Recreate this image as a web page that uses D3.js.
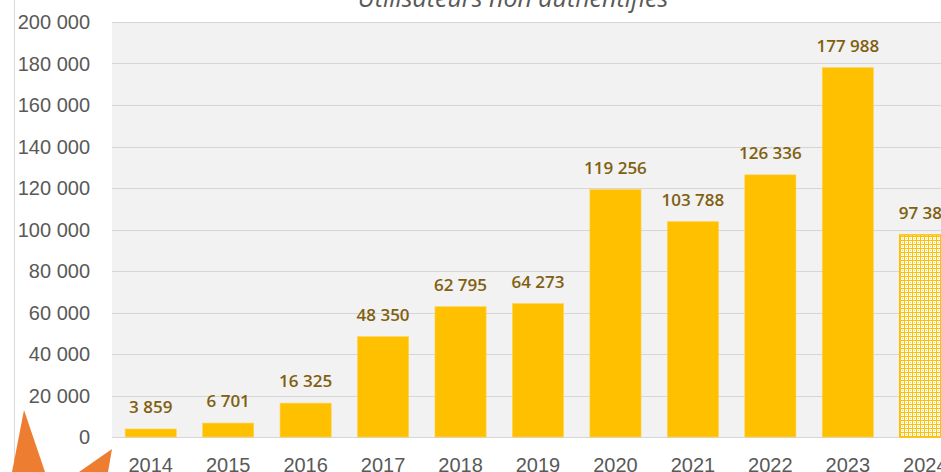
<!DOCTYPE html>
<html>
<head>
<meta charset="utf-8">
<script src="https://d3js.org/d3.v7.min.js"></script>
<style>
  body { margin: 0; background: white; overflow: hidden; }
  svg { display: block; font-family: "Liberation Sans", Arial, sans-serif; }
  .grid line { stroke: #d6d6d6; stroke-width: 1px; }
  .ylab { fill: #595959; font-size: 20px; }
  .xlab { fill: #595959; font-size: 20px; }
  .vlab { fill: #806010; font-size: 17px; font-family: "Open Sans", sans-serif; font-weight: 600; }
  .title { fill: #595959; font-size: 25px; font-style: italic; font-family: "Open Sans", sans-serif; }
</style>
</head>
<body>
<script>
  // data
  var years = ["2014","2015","2016","2017","2018","2019","2020","2021","2022","2023","2024"]
  var users = [3859, 6701, 16325, 48350, 62795, 64273, 119256, 103788, 126336, 177988, 97385]
  var yTicks = [0, 20000, 40000, 60000, 80000, 100000, 120000, 140000, 160000, 180000, 200000]
  var partialYear = "2024"

  var width = 941, height = 472

  var fmt = function(v){ return d3.format(",")(v).replace(/,/g, " ") }

  var svg = d3.select("body").append("svg")
    .attr("width", width)
    .attr("height", height)

  // hatch for the unfinished year: yellow lattice, white crosses
  var pat = svg.append("defs").append("pattern")
    .attr("id", "hatch")
    .attr("patternUnits", "userSpaceOnUse")
    .attr("width", 4).attr("height", 4)
  pat.append("rect").attr("width", 4).attr("height", 4).attr("fill", "#fff")
  pat.append("rect").attr("x", 0).attr("y", 0).attr("width", 4).attr("height", 1).attr("fill", "#ffc000")
  pat.append("rect").attr("x", 0).attr("y", 0).attr("width", 1).attr("height", 4).attr("fill", "#ffc000")
  pat.append("rect").attr("x", 2).attr("y", 2).attr("width", 1).attr("height", 1).attr("fill", "#ffd966")

  var x = d3.scaleBand()
    .domain(years)
    .range([112, 964])
    .paddingInner(0.34)
    .paddingOuter(0.17)

  var y = d3.scaleLinear()
    .domain([0, 200000])
    .range([437, 22])

  // left border line
  svg.append("line")
    .attr("x1", 14.5).attr("x2", 14.5)
    .attr("y1", 0).attr("y2", height)
    .attr("stroke", "#d9d9d9")

  // plot area
  svg.append("rect")
    .attr("x", 112).attr("y", y(200000))
    .attr("width", 964 - 112).attr("height", y(0) - y(200000))
    .attr("fill", "#f2f2f2")

  svg.append("g")
    .attr("class", "grid")
    .selectAll("line")
    .data(yTicks)
    .enter().append("line")
    .attr("x1", 112).attr("x2", 964)
    .attr("y1", function(d){ return Math.round(y(d)) + 0.5 })
    .attr("y2", function(d){ return Math.round(y(d)) + 0.5 })

  svg.selectAll("text.ylab")
    .data(yTicks)
    .enter().append("text")
    .attr("class", "ylab")
    .attr("x", 90)
    .attr("y", function(d){ return y(d) })
    .attr("dy", "0.35em")
    .attr("text-anchor", "end")
    .text(fmt)

  svg.selectAll("rect.bar")
    .data(years)
    .enter().append("rect")
    .attr("class", "bar")
    .attr("x", function(d){ return x(d) })
    .attr("width", x.bandwidth())
    .attr("y", function(d, i){ return y(users[i]) })
    .attr("height", function(d, i){ return y(0) - y(users[i]) })
    .attr("fill", function(d){ return d === partialYear ? "url(#hatch)" : "#ffc000" })
    .attr("stroke", function(d){ return d === partialYear ? "#ffc000" : "#ffd24d" })
    .attr("stroke-width", function(d){ return d === partialYear ? 1.5 : 0.6 })

  svg.selectAll("text.vlab")
    .data(years)
    .enter().append("text")
    .attr("class", "vlab")
    .attr("x", function(d){ return x(d) + x.bandwidth() / 2 })
    .attr("y", function(d, i){ return y(users[i]) - 16 })
    .attr("text-anchor", "middle")
    .text(function(d, i){ return fmt(users[i]) })

  svg.selectAll("text.xlab")
    .data(years)
    .enter().append("text")
    .attr("class", "xlab")
    .attr("x", function(d){ return x(d) + x.bandwidth() / 2 })
    .attr("y", 472)
    .attr("text-anchor", "middle")
    .text(function(d){ return d })

  svg.append("text")
    .attr("class", "title")
    .attr("x", 513)
    .attr("y", 7)
    .attr("text-anchor", "middle")
    .text("Utilisateurs non authentifiés")

  // orange decoration at bottom left
  svg.append("polygon")
    .attr("points", "24,410 12,472 45,472")
    .attr("fill", "#ed7d31")
  svg.append("polygon")
    .attr("points", "112,449 79,472 108,472")
    .attr("fill", "#ed7d31")
</script>
</body>
</html>
